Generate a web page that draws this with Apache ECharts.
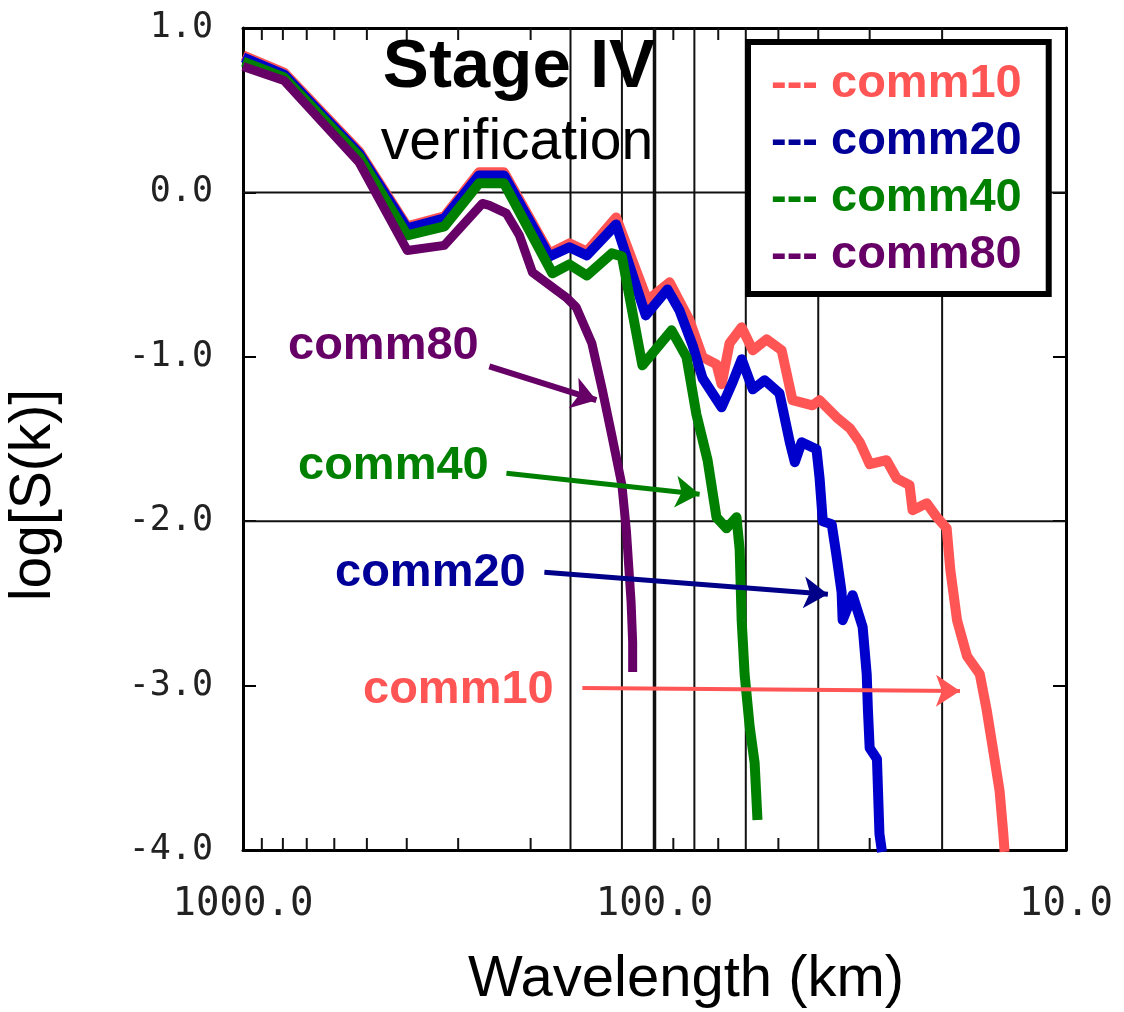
<!DOCTYPE html>
<html>
<head>
<meta charset="utf-8">
<script src="https://cdn.jsdelivr.net/npm/echarts@6/dist/echarts.min.js"></script>
<style>
html,body{margin:0;padding:0;background:#fff;}
#chart{width:1124px;height:1012px;}
</style>
</head>
<body>
<div id="chart"></div>
<script>
// ---- data: [wavelength (km), log S(k)] ----
const comm10 = [[1000,0.833],[795,0.729],[522,0.249],[399,-0.207],[324,-0.146],[267,0.122],[232,0.122],[180,-0.371],[161,-0.310],[146,-0.359],[124,-0.152],[104,-0.657],[91.9,-0.547],[82.2,-0.778],[76.4,-1.002],[70.7,-1.046],[68.7,-1.167],[65.7,-0.918],[61.4,-0.821],[57.7,-0.960],[53.4,-0.894],[49.1,-0.960],[46.2,-1.264],[41.3,-1.295],[39.7,-1.264],[36.1,-1.368],[33.5,-1.435],[31.7,-1.520],[30.0,-1.653],[27.3,-1.629],[25.8,-1.739],[24.0,-1.781],[23.6,-1.933],[21.8,-1.891],[20.6,-1.976],[19.5,-2.043],[19.1,-2.298],[18.4,-2.602],[17.4,-2.821],[16.2,-2.930],[15.6,-3.143],[15.1,-3.362],[14.5,-3.641],[14.2,-3.903],[14.1,-4.012]];
const comm20 = [[1000,0.821],[795,0.717],[522,0.237],[399,-0.219],[324,-0.158],[267,0.103],[232,0.103],[180,-0.389],[161,-0.334],[146,-0.383],[124,-0.195],[105,-0.748],[93.0,-0.590],[87.0,-0.717],[80.8,-0.930],[76.4,-1.131],[68.7,-1.307],[64.6,-1.155],[61.4,-1.015],[57.7,-1.198],[54.0,-1.143],[49.7,-1.222],[46.9,-1.520],[45.6,-1.641],[43.9,-1.520],[40.4,-1.562],[39.7,-1.739],[39.0,-2.000],[37.1,-2.018],[36.1,-2.213],[35.1,-2.432],[34.9,-2.602],[33.0,-2.450],[31.2,-2.644],[30.5,-2.930],[30.3,-3.143],[30.0,-3.380],[28.8,-3.447],[28.4,-3.903],[28.0,-4.012]];
const comm40 = [[1000,0.796],[795,0.699],[522,0.219],[399,-0.261],[324,-0.207],[267,0.055],[232,0.055],[177,-0.492],[161,-0.438],[146,-0.505],[127,-0.371],[120,-0.389],[107,-1.052],[90.9,-0.839],[83.6,-1.002],[79.1,-1.350],[74.3,-1.629],[70.7,-1.976],[66.8,-2.043],[63.2,-1.976],[62.1,-2.170],[61.4,-2.602],[60.4,-2.930],[58.7,-3.252],[57.1,-3.471],[56.2,-3.818]];
const comm80 = [[1000,0.766],[795,0.681],[522,0.182],[399,-0.353],[324,-0.322],[262,-0.067],[252,-0.079],[229,-0.128],[213,-0.261],[198,-0.486],[164,-0.638],[155,-0.699],[142,-0.918],[134,-1.198],[127,-1.477],[120,-1.781],[117,-2.061],[114,-2.492],[113,-2.736],[113,-2.918]];

const seriesNames = ['comm10','comm20','comm40','comm80'];
// annotation arrows: [start, tip] in data coordinates
const arrow10 = [[149.7,-3.015],[18.1,-3.033]];
const arrow20 = [[185.2,-2.310],[37.9,-2.444]];
const arrow40 = [[229,-1.708],[77.7,-1.836]];
const arrow80 = [[252,-1.058],[138.4,-1.264]];

// axis furniture
const verticalGridWavelengths = [160, 120, 100, 80, 60, 40, 20];
const majorGridWavelength = 100;
const horizontalGridValues = [0, -2];
const minorTickWavelengths = [900, 800, 700, 600, 500, 400, 300, 200, 90, 70, 50, 30];

const colors = {comm10:'#FF5555', comm20:'#0000CC', comm40:'#008000', comm80:'#660066'};
const textColors = {comm10:'#FF5555', comm20:'#000099', comm40:'#008000', comm80:'#660066'};
const arrowColors = {comm10:'#FF5555', comm20:'#000088', comm40:'#008000', comm80:'#660066'};

const chart = echarts.init(document.getElementById('chart'), null, {renderer:'canvas'});
const monoFont = 'DejaVu Sans Mono';
const sans = 'Liberation Sans';

function arrowMark(name, pts, w){
  return {
    silent:true,
    symbol:['none','arrow'],
    symbolSize:24,
    label:{show:false},
    lineStyle:{color:arrowColors[name], width:w, type:'solid'},
    itemStyle:{color:arrowColors[name]},
    emphasis:{disabled:true},
    data:[[{coord:pts[0]},{coord:pts[1]}]]
  };
}

function lineSeries(name, data, mark, w){
  return {
    name:name, type:'line', data:data, xAxisIndex:0, yAxisIndex:0,
    showSymbol:false, symbol:'none', smooth:false, z:2,
    lineStyle:{color:colors[name], width:w, join:'round', cap:'butt'},
    itemStyle:{color:colors[name]},
    markLine:mark
  };
}

const axisLineStyle = {show:true, onZero:false, lineStyle:{color:'#000', width:3}};

const option = {
  animation:false,
  backgroundColor:'#fff',
  grid:{left:243, right:58, top:28, bottom:162, containLabel:false},
  xAxis:[
    {type:'log', logBase:10, min:10, max:1000, inverse:true, position:'bottom',
     axisLine:axisLineStyle, axisTick:{show:false}, splitLine:{show:false},
     axisLabel:{formatter:v=>Number(v).toFixed(1), fontFamily:monoFont, fontSize:39, color:'#222', margin:35}},
    {type:'log', logBase:10, min:10, max:1000, inverse:true, position:'top',
     axisLine:axisLineStyle, axisTick:{show:false}, splitLine:{show:false}, axisLabel:{show:false}}
  ],
  yAxis:[
    {type:'value', min:-4, max:1, interval:1, position:'left',
     axisLine:axisLineStyle, axisTick:{show:true, inside:true, length:13, lineStyle:{color:'#000', width:2}},
     splitLine:{show:false},
     axisLabel:{formatter:v=>Number(v).toFixed(1), fontFamily:monoFont, fontSize:35, color:'#222', margin:30}},
    {type:'value', min:-4, max:1, interval:1, position:'right',
     axisLine:axisLineStyle, axisTick:{show:true, inside:true, length:13, lineStyle:{color:'#000', width:2}},
     splitLine:{show:false}, axisLabel:{show:false}}
  ],
  legend:{
    orient:'vertical', left:748, top:42, selectedMode:false,
    icon:'rect', itemWidth:0, itemHeight:0, itemGap:0,
    padding:[14,27,10,18],
    backgroundColor:'#fff', borderColor:'#000', borderWidth:6,
    formatter:n=>'--- '+n,
    textStyle:{fontFamily:sans, fontWeight:'bold', fontSize:47, lineHeight:57},
    data:seriesNames.map(n=>({name:n, textStyle:{color:textColors[n]}}))
  },
  series:[
    {type:'custom', name:'vgrid', coordinateSystem:'cartesian2d', silent:true, z:1, clip:false,
     data:verticalGridWavelengths.map(w=>[w,0]),
     renderItem:function(params, api){
       const w = api.value(0);
       const a = api.coord([w,1]), b = api.coord([w,-4]);
       return {type:'line', shape:{x1:a[0],y1:a[1],x2:b[0],y2:b[1]},
               style:{stroke:'#111', lineWidth: w===majorGridWavelength ? 3.5 : 2}};
     }},
    {type:'custom', name:'hgrid', coordinateSystem:'cartesian2d', silent:true, z:1, clip:false,
     data:horizontalGridValues.map(v=>[100,v]),
     renderItem:function(params, api){
       const v = api.value(1);
       const a = api.coord([1000,v]), b = api.coord([10,v]);
       return {type:'line', shape:{x1:a[0],y1:a[1],x2:b[0],y2:b[1]},
               style:{stroke:'#111', lineWidth:2}};
     }},
    {type:'custom', name:'minorTicks', coordinateSystem:'cartesian2d', silent:true, z:1, clip:false,
     data:minorTickWavelengths.map(w=>[w,0]),
     renderItem:function(params, api){
       const w = api.value(0);
       const a = api.coord([w,1]), b = api.coord([w,-4]);
       return {type:'group', children:[
         {type:'line', shape:{x1:a[0],y1:a[1],x2:a[0],y2:a[1]+12}, style:{stroke:'#111', lineWidth:2}},
         {type:'line', shape:{x1:b[0],y1:b[1],x2:b[0],y2:b[1]-12}, style:{stroke:'#111', lineWidth:2}}
       ]};
     }},
    lineSeries('comm10', comm10, arrowMark('comm10', arrow10, 4), 10),
    lineSeries('comm20', comm20, arrowMark('comm20', arrow20, 5), 10),
    lineSeries('comm40', comm40, arrowMark('comm40', arrow40, 5), 10),
    lineSeries('comm80', comm80, arrowMark('comm80', arrow80, 6), 9)
  ],
  graphic:[
    {type:'text', x:519, y:68, z:10, silent:true,
     style:{text:'Stage IV', font:'bold 69px "Liberation Sans"', fill:'#000', align:'center', verticalAlign:'middle'}},
    {type:'text', x:517, y:143, z:10, silent:true,
     style:{text:'verification', font:'57px "Liberation Sans"', fill:'#000', align:'center', verticalAlign:'middle'}},
    {type:'text', x:686, y:980, z:10, silent:true,
     style:{text:'Wavelength (km)', font:'58px "Liberation Sans"', fill:'#000', align:'center', verticalAlign:'middle'}},
    {type:'text', x:34, y:495, rotation:Math.PI/2, z:10, silent:true,
     style:{text:'log[S(k)]', font:'57px "Liberation Sans"', fill:'#000', align:'center', verticalAlign:'middle'}},
    {type:'text', x:288, y:346, z:10, silent:true,
     style:{text:'comm80', font:'bold 47px "Liberation Sans"', fill:textColors.comm80, align:'left', verticalAlign:'middle'}},
    {type:'text', x:298, y:466, z:10, silent:true,
     style:{text:'comm40', font:'bold 47px "Liberation Sans"', fill:textColors.comm40, align:'left', verticalAlign:'middle'}},
    {type:'text', x:335, y:573, z:10, silent:true,
     style:{text:'comm20', font:'bold 47px "Liberation Sans"', fill:textColors.comm20, align:'left', verticalAlign:'middle'}},
    {type:'text', x:363, y:690, z:10, silent:true,
     style:{text:'comm10', font:'bold 47px "Liberation Sans"', fill:textColors.comm10, align:'left', verticalAlign:'middle'}}
  ]
};
chart.setOption(option);
</script>
</body>
</html>
